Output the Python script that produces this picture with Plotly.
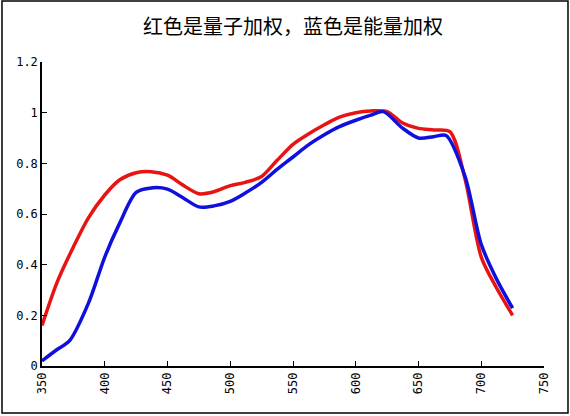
import plotly.graph_objects as go

# 波长 (nm) 与两种加权曲线
wl_red = [350, 362, 375, 387, 400, 412, 425, 437, 450, 462, 475, 487, 500, 512,
          525, 537, 550, 562, 575, 587, 600, 612, 625, 637, 650, 662, 675, 687,
          700, 712, 725]
quantum = [0.16, 0.33, 0.47, 0.585, 0.675, 0.735, 0.763, 0.767, 0.753, 0.715,
           0.68, 0.688, 0.712, 0.725, 0.748, 0.81, 0.875, 0.915, 0.952, 0.982,
           1.0, 1.007, 1.004, 0.96, 0.938, 0.932, 0.925, 0.74, 0.43, 0.31, 0.2]

wl_blue = [350, 362, 372, 387, 400, 412, 425, 437, 450, 462, 475, 487, 500, 512,
           525, 537, 550, 562, 575, 587, 600, 612, 622, 637, 650, 662, 672, 687,
           700, 712, 725]
energy = [0.02, 0.065, 0.10, 0.248, 0.43, 0.565, 0.685, 0.703, 0.698, 0.665,
          0.628, 0.632, 0.65, 0.683, 0.725, 0.775, 0.825, 0.872, 0.913, 0.945,
          0.97, 0.99, 1.004, 0.94, 0.9, 0.905, 0.91, 0.75, 0.48, 0.345, 0.228]

x_ticks = [350, 400, 450, 500, 550, 600, 650, 700, 750]
y_ticks = [0, 0.2, 0.4, 0.6, 0.8, 1, 1.2]
y_labels = ['0', '0.2', '0.4', '0.6', '0.8', '1', '1.2']

fig = go.Figure()

fig.add_trace(go.Scatter(
    x=wl_red, y=quantum, mode='lines', name='量子加权',
    line=dict(color='#E81414', width=3.5, shape='spline', smoothing=0.8),
))
fig.add_trace(go.Scatter(
    x=wl_blue, y=energy, mode='lines', name='能量加权',
    line=dict(color='#1010DC', width=3.5, shape='spline', smoothing=0.8),
))

# 外框
fig.add_shape(type='rect', xref='paper', yref='paper',
              x0=-0.0797, x1=1.0478, y0=-0.155, y1=1.2007,
              line=dict(color='black', width=1.5))

axis_font = dict(family='DejaVu Sans Mono', size=12, color='black')
fig.update_layout(
    title=dict(text='红色是量子加权，蓝色是能量加权', x=0.5, xref='paper', xanchor='center',
               y=0.935, yanchor='middle',
               font=dict(family='Noto Sans CJK SC', size=20, color='black')),
    xaxis=dict(range=[350, 750], tickvals=x_ticks, tickangle=-90,
               ticks='inside', ticklen=5, tickcolor='black',
               showline=True, linecolor='black', linewidth=1.5,
               showgrid=False, zeroline=False, tickfont=axis_font),
    yaxis=dict(range=[0, 1.2], tickvals=y_ticks, ticktext=y_labels,
               ticks='inside', ticklen=5, tickcolor='black',
               showline=True, linecolor='black', linewidth=1.5,
               showgrid=False, zeroline=False, tickfont=axis_font),
    showlegend=False,
    plot_bgcolor='white',
    paper_bgcolor='white',
    width=570, height=416,
    margin=dict(l=42, r=26, t=62, b=50),
)

# 去掉页面默认边距和工具栏
fig.write_html('out.html', config={'displayModeBar': False},
               post_script="document.body.style.margin='0px';")
